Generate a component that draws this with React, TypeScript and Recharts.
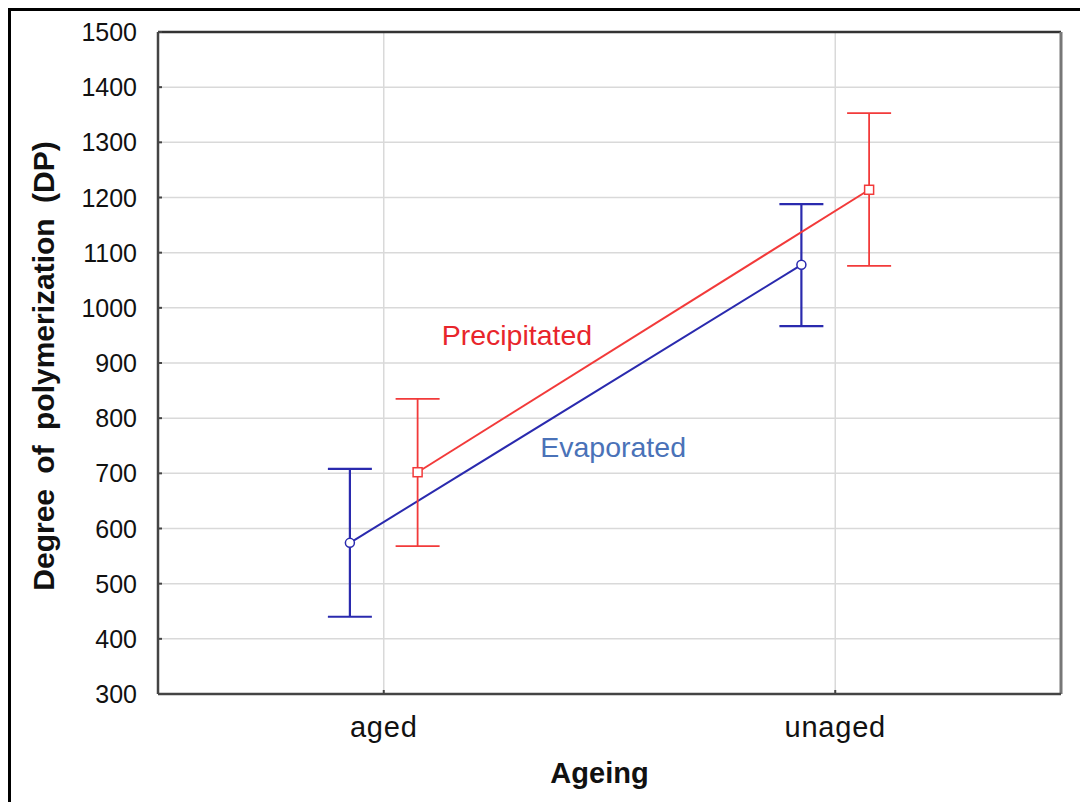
import {
  LineChart,
  Line,
  XAxis,
  YAxis,
  CartesianGrid,
  ErrorBar,
  ReferenceDot,
  ReferenceLine,
  Label,
} from "recharts";

// values (DP, mean with interval bounds)
const categories = ["aged", "unaged"];
const evaporatedMean = [574, 1078];
const evaporatedLow = [440, 967];
const evaporatedHigh = [708, 1188];
const precipitatedMean = [702, 1214];
const precipitatedLow = [568, 1076];
const precipitatedHigh = [835, 1353];
const yTicks = [300, 400, 500, 600, 700, 800, 900, 1000, 1100, 1200, 1300, 1400, 1500];

const BLUE = "#2a2aae";
const RED = "#f23a3a";
const FONT = "'Liberation Sans', Arial, sans-serif";
const DODGE = 0.075;

const build = (mean: number[], low: number[], high: number[], shift: number) =>
  mean.map((m, i) => ({ x: i + 0.5 + shift, y: m, err: [m - low[i], high[i] - m] }));

const evaporated = build(evaporatedMean, evaporatedLow, evaporatedHigh, -DODGE);
const precipitated = build(precipitatedMean, precipitatedLow, precipitatedHigh, DODGE);

const CircleDot = (props: any) => {
  const { cx, cy } = props;
  if (cx == null || cy == null) return null;
  return <circle cx={cx} cy={cy} r={4.5} fill="#fff" stroke={BLUE} strokeWidth={1.5} />;
};

const SquareDot = (props: any) => {
  const { cx, cy } = props;
  if (cx == null || cy == null) return null;
  return <rect x={cx - 4.5} y={cy - 4.5} width={9} height={9} fill="#fff" stroke={RED} strokeWidth={1.5} />;
};

const YTick = (props: any) => {
  const { x, y, payload } = props;
  return (
    <g>
      <line x1={x + 21} x2={x + 25} y1={y} y2={y} stroke="#444" strokeWidth={2} />
      <text x={x} y={y} dy="0.36em" textAnchor="end" fontSize={25} fill="#111" fontFamily={FONT}>
        {payload.value}
      </text>
    </g>
  );
};

const XTick = (props: any) => {
  const { x, y, payload } = props;
  const idx = Math.round(payload.value - 0.5);
  return (
    <g>
      <line x1={x} x2={x} y1={y - 22} y2={y - 26} stroke="#444" strokeWidth={2} />
      <text
        x={x}
        y={y}
        dy="0.72em"
        textAnchor="middle"
        fontSize={29}
        letterSpacing={0.8}
        fill="#111"
        fontFamily={FONT}
      >
        {categories[idx]}
      </text>
    </g>
  );
};

export default function App() {
  return (
    <div
      style={{
        borderTop: "3px solid #000",
        borderLeft: "3px solid #000",
        width: 1077,
        height: 791,
        background: "#fff",
      }}
    >
      <LineChart width={1077} height={791} margin={{ top: 21, right: 27, bottom: 0, left: 0 }}>
        <CartesianGrid stroke="#d9d9d9" strokeWidth={1.5} />
        <XAxis
          dataKey="x"
          type="number"
          domain={[0, 2]}
          ticks={[0.5, 1.5]}
          allowDuplicatedCategory={false}
          height={108}
          tickSize={0}
          tickMargin={22}
          tick={<XTick />}
          axisLine={{ stroke: "#444", strokeWidth: 2.5 }}
        >
          <Label
            content={(p: any) => {
              const vb = p.viewBox || { x: 147, y: 683, width: 903 };
              return (
                <text
                  x={vb.x + vb.width / 2 - 10}
                  y={vb.y + 79}
                  textAnchor="middle"
                  dominantBaseline="central"
                  fontSize={29}
                  fontWeight="bold"
                  fill="#111"
                  fontFamily={FONT}
                >
                  Ageing
                </text>
              );
            }}
          />
        </XAxis>
        <YAxis
          type="number"
          domain={[300, 1500]}
          ticks={yTicks}
          width={147}
          tickSize={0}
          tickMargin={21}
          tick={<YTick />}
          axisLine={{ stroke: "#444", strokeWidth: 2.5 }}
        >
          <Label
            content={(p: any) => {
              const vb = p.viewBox || { x: 0, y: 21, height: 662 };
              const cx = vb.x + 32;
              const cy = vb.y + vb.height / 2 + 3;
              return (
                <text
                  x={cx}
                  y={cy}
                  transform={`rotate(-90, ${cx}, ${cy})`}
                  textAnchor="middle"
                  dominantBaseline="central"
                  fontSize={30}
                  fontWeight="bold"
                  fill="#111"
                  fontFamily={FONT}
                  wordSpacing={7}
                >
                  Degree of polymerization (DP)
                </text>
              );
            }}
          />
        </YAxis>
        <ReferenceLine y={1500} stroke="#333" strokeWidth={2.5} />
        <ReferenceLine x={2} stroke="#777" strokeWidth={3} />
        <Line
          data={evaporated}
          dataKey="y"
          stroke={BLUE}
          strokeWidth={2}
          dot={<CircleDot />}
          activeDot={false}
          isAnimationActive={false}
        >
          <ErrorBar dataKey="err" direction="y" width={22} stroke={BLUE} strokeWidth={2.2} />
        </Line>
        <Line
          data={precipitated}
          dataKey="y"
          stroke={RED}
          strokeWidth={2}
          dot={<SquareDot />}
          activeDot={false}
          isAnimationActive={false}
        >
          <ErrorBar dataKey="err" direction="y" width={22} stroke={RED} strokeWidth={1.8} />
        </Line>
        <ReferenceDot
          x={0.795}
          y={951}
          r={0}
          stroke="none"
          label={{ value: "Precipitated", position: "center", fill: "#e8252b", fontSize: 28.5, fontFamily: FONT }}
        />
        <ReferenceDot
          x={1.008}
          y={748}
          r={0}
          stroke="none"
          label={{ value: "Evaporated", position: "center", fill: "#4a72b8", fontSize: 28.5, fontFamily: FONT }}
        />
      </LineChart>
    </div>
  );
}
